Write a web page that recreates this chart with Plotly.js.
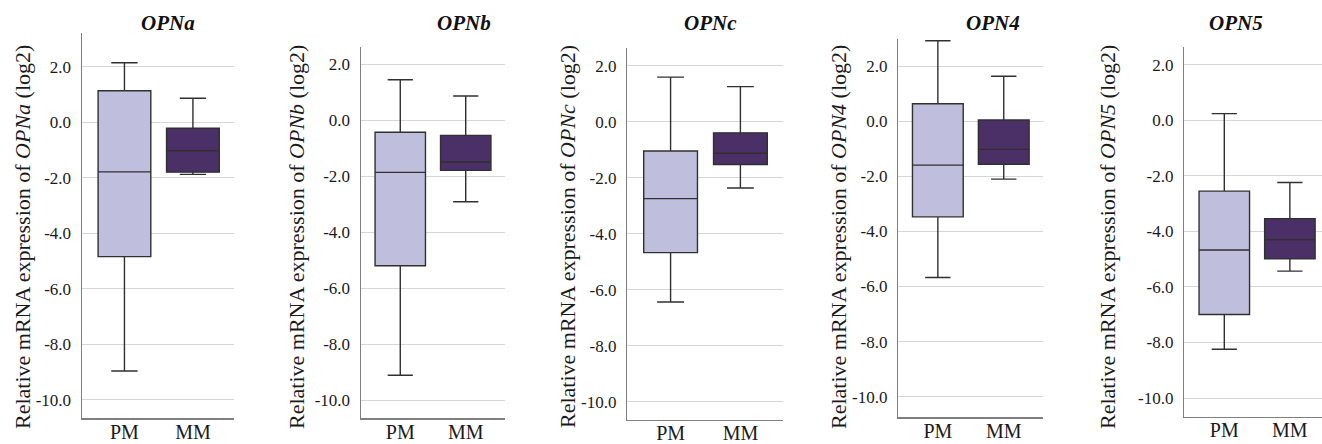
<!DOCTYPE html>
<html>
<head>
<meta charset="utf-8">
<script src="https://cdn.plot.ly/plotly-3.0.1.min.js"></script>
<style>html,body{margin:0;padding:0;background:#fff;}#chart{width:1322px;height:444px;}</style>
</head>
<body>
<div id="chart"></div>
<script>
// ---- data ----
const genes = ['OPNa', 'OPNb', 'OPNc', 'OPN4', 'OPN5'];
const groups = ['PM', 'MM'];
const tickVals = [2, 0, -2, -4, -6, -8, -10];
const tickText = ['2.0', '0.0', '-2.0', '-4.0', '-6.0', '-8.0', '-10.0'];

const pmLower  = [-8.96, -9.11, -6.43, -5.67, -8.24];
const pmQ1     = [-4.84, -5.20, -4.67, -3.47, -6.99];
const pmMedian = [-1.79, -1.86, -2.74, -1.59, -4.67];
const pmQ3     = [ 1.13, -0.43, -1.04,  0.64, -2.55];
const pmUpper  = [ 2.14,  1.45,  1.60,  2.93,  0.24];

const mmLower  = [-1.88, -2.91, -2.36, -2.10, -5.43];
const mmQ1     = [-1.80, -1.79, -1.52, -1.56, -4.99];
const mmMedian = [-1.03, -1.49, -1.12, -1.02, -4.30];
const mmQ3     = [-0.22, -0.54, -0.39,  0.05, -3.54];
const mmUpper  = [ 0.86,  0.87,  1.26,  1.64, -2.24];

// ---- layout geometry (pixels in a 1322x444 canvas) ----
const W = 1322, H = 444;
const panels = [
  {x0: 82,    x1: 234,    top: 33,   bot: 418,   yr: [-10.65, 3.21], xr: [-0.62, 1.60], titleX: 168,  ytX: 22},
  {x0: 361,   x1: 505,    top: 46.7, bot: 418.3, yr: [-10.65, 2.63], xr: [-0.60, 1.60], titleX: 464,  ytX: 296},
  {x0: 627.3, x1: 783,    top: 48.3, bot: 419.5, yr: [-10.63, 2.63], xr: [-0.62, 1.61], titleX: 710,  ytX: 567},
  {x0: 898.3, x1: 1043.3, top: 39.3, bot: 417.3, yr: [-10.75, 2.98], xr: [-0.60, 1.60], titleX: 993,  ytX: 838},
  {x0: 1184.3,x1: 1322,   top: 46.7, bot: 416.7, yr: [-10.67, 2.65], xr: [-0.61, 1.49], titleX: 1236, ytX: 1107}
];

const serif = '"Times New Roman", "Liberation Serif", Tinos, Times, serif';
const pmFill = '#bfbfdd';
const mmFill = '#4a3066';
const lineCol = '#303030';

const traces = [];
const layout = {
  width: W, height: H,
  margin: {l: 0, r: 0, t: 0, b: 0},
  paper_bgcolor: '#fff', plot_bgcolor: 'rgba(0,0,0,0)',
  showlegend: false,
  boxmode: 'overlay',
  font: {family: serif},
  annotations: []
};

genes.forEach((g, i) => {
  const p = panels[i];
  const sfx = i === 0 ? '' : String(i + 1);
  const xa = 'x' + sfx, ya = 'y' + sfx;
  const fills = [pmFill, mmFill];
  const stats = [
    [pmLower[i], pmQ1[i], pmMedian[i], pmQ3[i], pmUpper[i]],
    [mmLower[i], mmQ1[i], mmMedian[i], mmQ3[i], mmUpper[i]]
  ];
  groups.forEach((grp, k) => {
    const s = stats[k];
    traces.push({
      type: 'box', xaxis: xa, yaxis: ya,
      x: [grp], lowerfence: [s[0]], q1: [s[1]], median: [s[2]], q3: [s[3]], upperfence: [s[4]],
      width: 0.77, whiskerwidth: 0.5,
      fillcolor: fills[k],
      line: {color: lineCol, width: 1.4},
      hoverinfo: 'skip'
    });
  });
  layout['xaxis' + sfx] = {
    domain: [p.x0 / W, p.x1 / W], anchor: ya,
    type: 'category', categoryorder: 'array', categoryarray: groups,
    range: p.xr, showgrid: false, zeroline: false,
    showline: true, linecolor: '#7f7f7f', linewidth: 1.5,
    ticks: '', ticklabelstandoff: -5,
    tickfont: {family: serif, size: 20, color: '#1a1a1a'},
    fixedrange: true
  };
  layout['yaxis' + sfx] = {
    domain: [(H - p.bot) / H, (H - p.top) / H], anchor: xa,
    range: p.yr, tickmode: 'array', tickvals: tickVals, ticktext: tickText,
    showgrid: true, gridcolor: '#d6d6d6', gridwidth: 1, zeroline: false,
    showline: true, linecolor: '#7f7f7f', linewidth: 1.5,
    ticks: '', ticklabelstandoff: 6,
    tickfont: {family: serif, size: 17, color: '#1a1a1a'},
    fixedrange: true
  };
  layout.annotations.push({
    xref: 'paper', yref: 'paper', x: p.titleX / W, y: (H - 23) / H,
    xanchor: 'center', yanchor: 'middle', showarrow: false,
    text: '<b><i>' + g + '</i></b>',
    font: {family: serif, size: 21, color: '#111'}
  });
  layout.annotations.push({
    xref: 'paper', yref: 'paper', x: p.ytX / W, y: (H - 237) / H,
    xanchor: 'center', yanchor: 'middle', showarrow: false, textangle: -90,
    text: 'Relative mRNA expression of <i>' + g + '</i> (log2)',
    font: {family: serif, size: 22, color: '#1a1a1a'}
  });
});

Plotly.newPlot('chart', traces, layout, {displayModeBar: false, staticPlot: true});
</script>
</body>
</html>
